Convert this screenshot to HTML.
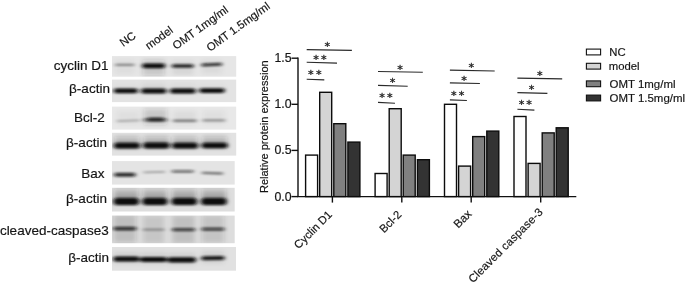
<!DOCTYPE html><html><head><meta charset="utf-8"><title>Figure</title><style>html,body{margin:0;padding:0;background:#fff}svg{display:block}text{font-family:"Liberation Sans",Arial,sans-serif;fill:#151515;stroke:#151515;stroke-width:0.18px}.st{font-family:"DejaVu Sans","Liberation Sans",sans-serif;font-size:11.3px;fill:#222;stroke:#222;stroke-width:0.3}</style></head><body>
<svg width="685" height="282" viewBox="0 0 685 282">
<defs><filter id="b1" x="-30%" y="-150%" width="160%" height="400%"><feGaussianBlur stdDeviation="2.1 1.0"/></filter><filter id="b2" x="-30%" y="-150%" width="160%" height="400%"><feGaussianBlur stdDeviation="2.5 2.2"/></filter><linearGradient id="hz" x1="0" y1="0" x2="0" y2="1"><stop offset="0" stop-color="#222" stop-opacity="0.25"/><stop offset="1" stop-color="#222" stop-opacity="1"/></linearGradient></defs>
<rect width="685" height="282" fill="#fff"/>
<clipPath id="c0"><rect x="112" y="56.1" width="124.2" height="20.6"/></clipPath>
<rect x="112" y="56.1" width="124.2" height="20.6" fill="#e6e6e6"/>
<g clip-path="url(#c0)">
<g filter="url(#b2)">
<rect x="115.5" y="59.9" width="18.5" height="14.0" fill="#222" opacity="0.04"/>
<rect x="142.6" y="59.8" width="22.1" height="16.0" fill="#222" opacity="0.16"/>
<rect x="172.2" y="61.0" width="21.0" height="14.0" fill="#222" opacity="0.07"/>
<rect x="201.7" y="59.7" width="19.9" height="14.0" fill="#222" opacity="0.05"/>
</g>
<g filter="url(#b1)">
<rect x="115.0" y="63.70" width="19.5" height="2.4" rx="1.20" fill="#0c0c0c" opacity="0.4"/>
<rect x="142.1" y="63.40" width="23.1" height="4.8" rx="2.40" fill="#0c0c0c" opacity="1"/>
<rect x="171.7" y="64.20" width="22.0" height="3.6" rx="1.80" fill="#0c0c0c" opacity="0.9"/>
<rect x="201.2" y="63.20" width="20.9" height="3.0" rx="1.50" fill="#0c0c0c" opacity="0.82" transform="rotate(-2.5 211.6 64.7)"/>
</g></g>
<text x="108.5" y="69.5" font-size="13.5" text-anchor="end" stroke="#151515" stroke-width="0.3">cyclin D1</text>
<clipPath id="c1"><rect x="112" y="79.6" width="124.2" height="22.5"/></clipPath>
<rect x="112" y="79.6" width="124.2" height="22.5" fill="#e3e3e3"/>
<g clip-path="url(#c1)">
<g filter="url(#b2)">
<rect x="114.2" y="83.9" width="23.2" height="9.0" fill="url(#hz)" opacity="0.05"/>
<rect x="141.6" y="82.0" width="24.3" height="11.0" fill="url(#hz)" opacity="0.1"/>
<rect x="170.5" y="83.0" width="24.7" height="10.0" fill="url(#hz)" opacity="0.07"/>
<rect x="199.8" y="83.6" width="24.4" height="9.0" fill="url(#hz)" opacity="0.05"/>
</g>
<g filter="url(#b1)">
<rect x="113.7" y="88.50" width="24.2" height="4.8" rx="2.40" fill="#0c0c0c" opacity="1"/>
<rect x="141.1" y="88.50" width="25.3" height="5.0" rx="2.50" fill="#0c0c0c" opacity="1"/>
<rect x="170.0" y="88.50" width="25.7" height="5.0" rx="2.50" fill="#0c0c0c" opacity="1"/>
<rect x="199.3" y="88.20" width="25.4" height="4.8" rx="2.40" fill="#0c0c0c" opacity="1"/>
</g></g>
<text x="109.9" y="93.2" font-size="13.5" text-anchor="end" stroke="#151515" stroke-width="0.3">β-actin</text>
<clipPath id="c2"><rect x="112" y="106.6" width="124.2" height="23.0"/></clipPath>
<rect x="112" y="106.6" width="124.2" height="23.0" fill="#e8e8e8"/>
<g clip-path="url(#c2)">
<g filter="url(#b2)">
<rect x="117.0" y="110.8" width="22.5" height="14.0" fill="#222" opacity="0.04"/>
<rect x="143.7" y="108.9" width="23.2" height="16.0" fill="#222" opacity="0.17"/>
<rect x="173.3" y="110.8" width="23.1" height="14.0" fill="#222" opacity="0.05"/>
<rect x="202.8" y="110.4" width="22.1" height="14.0" fill="#222" opacity="0.04"/>
</g>
<g filter="url(#b1)">
<rect x="116.5" y="119.90" width="23.5" height="1.8" rx="0.90" fill="#0c0c0c" opacity="0.28" transform="rotate(-2 128.2 120.8)"/>
<rect x="143.2" y="118.60" width="24.2" height="2.6" rx="1.30" fill="#0c0c0c" opacity="0.6"/>
<rect x="147.5" y="117.60" width="16.5" height="4.0" rx="2.00" fill="#0c0c0c" opacity="0.8"/>
<rect x="172.8" y="119.50" width="24.1" height="2.6" rx="1.30" fill="#0c0c0c" opacity="0.45"/>
<rect x="202.3" y="119.30" width="23.1" height="2.2" rx="1.10" fill="#0c0c0c" opacity="0.38"/>
</g></g>
<text x="104.7" y="121.7" font-size="13.5" text-anchor="end" stroke="#151515" stroke-width="0.3">Bcl-2</text>
<clipPath id="c3"><rect x="112" y="132.8" width="124.2" height="22.8"/></clipPath>
<rect x="112" y="132.8" width="124.2" height="22.8" fill="#e2e2e2"/>
<g clip-path="url(#c3)">
<g filter="url(#b2)">
<rect x="114.6" y="135.7" width="24.9" height="12.0" fill="url(#hz)" opacity="0.42"/>
<rect x="143.7" y="135.5" width="25.3" height="12.0" fill="url(#hz)" opacity="0.42"/>
<rect x="172.8" y="135.7" width="24.7" height="12.0" fill="url(#hz)" opacity="0.42"/>
<rect x="202.2" y="135.5" width="24.8" height="12.0" fill="url(#hz)" opacity="0.42"/>
</g>
<g filter="url(#b1)">
<rect x="114.1" y="142.80" width="25.9" height="5.8" rx="2.90" fill="#0c0c0c" opacity="1"/>
<rect x="143.2" y="142.60" width="26.3" height="5.8" rx="2.90" fill="#0c0c0c" opacity="1"/>
<rect x="172.3" y="142.80" width="25.7" height="5.8" rx="2.90" fill="#0c0c0c" opacity="1"/>
<rect x="201.7" y="142.70" width="25.8" height="5.6" rx="2.80" fill="#0c0c0c" opacity="1"/>
</g></g>
<text x="106.9" y="146.7" font-size="13.5" text-anchor="end" stroke="#151515" stroke-width="0.3">β-actin</text>
<clipPath id="c4"><rect x="112" y="161.1" width="122.7" height="23.5"/></clipPath>
<rect x="112" y="161.1" width="122.7" height="23.5" fill="#e4e4e4"/>
<g clip-path="url(#c4)">
<g filter="url(#b1)">
<rect x="114.1" y="172.70" width="21.5" height="4.0" rx="2.00" fill="#0c0c0c" opacity="0.85"/>
<rect x="143.2" y="171.20" width="22.0" height="1.8" rx="0.90" fill="#0c0c0c" opacity="0.32" transform="rotate(-1 154.2 172.1)"/>
<rect x="171.7" y="170.10" width="22.0" height="2.6" rx="1.30" fill="#0c0c0c" opacity="0.55"/>
<rect x="201.7" y="172.00" width="21.5" height="2.4" rx="1.20" fill="#0c0c0c" opacity="0.5" transform="rotate(2 212.4 173.2)"/>
</g></g>
<text x="104.4" y="177.9" font-size="13.5" text-anchor="end" stroke="#151515" stroke-width="0.3">Bax</text>
<clipPath id="c5"><rect x="112" y="187.8" width="122.7" height="23.7"/></clipPath>
<rect x="112" y="187.8" width="122.7" height="23.7" fill="#dedede"/>
<g clip-path="url(#c5)">
<g filter="url(#b2)">
<rect x="114.2" y="188.6" width="24.2" height="15.0" fill="url(#hz)" opacity="0.5"/>
<rect x="143.0" y="188.6" width="23.8" height="15.0" fill="url(#hz)" opacity="0.5"/>
<rect x="172.2" y="188.4" width="24.2" height="15.0" fill="url(#hz)" opacity="0.5"/>
<rect x="201.7" y="188.6" width="24.3" height="15.0" fill="url(#hz)" opacity="0.5"/>
</g>
<g filter="url(#b1)">
<rect x="113.7" y="198.10" width="25.2" height="7.0" rx="3.50" fill="#0c0c0c" opacity="1"/>
<rect x="142.5" y="198.10" width="24.8" height="7.0" rx="3.50" fill="#0c0c0c" opacity="1"/>
<rect x="171.7" y="197.90" width="25.2" height="7.0" rx="3.50" fill="#0c0c0c" opacity="1"/>
<rect x="201.2" y="198.10" width="25.3" height="7.0" rx="3.50" fill="#0c0c0c" opacity="1"/>
</g></g>
<text x="106.9" y="203.2" font-size="13.5" text-anchor="end" stroke="#151515" stroke-width="0.3">β-actin</text>
<clipPath id="c6"><rect x="112" y="215.6" width="122.7" height="27.6"/></clipPath>
<rect x="112" y="215.6" width="122.7" height="27.6" fill="#dddddd"/>
<g clip-path="url(#c6)">
<g filter="url(#b2)">
<rect x="113.8" y="214.6" width="22.2" height="28.0" fill="#222" opacity="0.17"/>
<rect x="143.1" y="215.6" width="20.9" height="28.0" fill="#222" opacity="0.1"/>
<rect x="172.4" y="215.6" width="22.3" height="28.0" fill="#222" opacity="0.13"/>
<rect x="201.8" y="215.1" width="22.2" height="28.0" fill="#222" opacity="0.14"/>
</g>
<g filter="url(#b1)">
<rect x="113.3" y="226.80" width="23.2" height="3.6" rx="1.80" fill="#0c0c0c" opacity="0.8"/>
<rect x="142.6" y="228.40" width="21.9" height="2.4" rx="1.20" fill="#0c0c0c" opacity="0.32"/>
<rect x="171.9" y="228.00" width="23.3" height="3.2" rx="1.60" fill="#0c0c0c" opacity="0.72"/>
<rect x="201.3" y="227.50" width="23.2" height="3.2" rx="1.60" fill="#0c0c0c" opacity="0.72"/>
</g></g>
<text x="108.7" y="235.1" font-size="13.5" text-anchor="end" stroke="#151515" stroke-width="0.3">cleaved-caspase3</text>
<clipPath id="c7"><rect x="112" y="247.0" width="124.0" height="23.7"/></clipPath>
<rect x="112" y="247.0" width="124.0" height="23.7" fill="#e1e1e1"/>
<g clip-path="url(#c7)">
<g filter="url(#b2)">
<rect x="113.8" y="252.0" width="25.2" height="12.0" fill="#222" opacity="0.08"/>
<rect x="140.5" y="252.4" width="26.0" height="12.0" fill="#222" opacity="0.08"/>
<rect x="168.0" y="252.8" width="27.4" height="12.0" fill="#222" opacity="0.08"/>
<rect x="201.8" y="251.2" width="22.2" height="12.0" fill="#222" opacity="0.08"/>
</g>
<g filter="url(#b1)">
<rect x="113.3" y="256.50" width="26.2" height="5.0" rx="2.50" fill="#0c0c0c" opacity="1"/>
<rect x="140.0" y="256.90" width="27.0" height="5.0" rx="2.50" fill="#0c0c0c" opacity="1"/>
<rect x="167.5" y="257.20" width="28.4" height="5.2" rx="2.60" fill="#0c0c0c" opacity="1"/>
<rect x="201.3" y="256.20" width="23.2" height="4.0" rx="2.00" fill="#0c0c0c" opacity="0.95" transform="rotate(-1 212.9 258.2)"/>
</g></g>
<text x="109.0" y="262.4" font-size="13.5" text-anchor="end" stroke="#151515" stroke-width="0.3">β-actin</text>
<text transform="translate(123.3,47) rotate(-36)" font-size="11.4">NC</text>
<text transform="translate(148.8,50) rotate(-36)" font-size="11.4">model</text>
<text transform="translate(176,50) rotate(-36)" font-size="11.4">OMT 1mg/ml</text>
<text transform="translate(210,52) rotate(-36)" font-size="11.4">OMT 1.5mg/ml</text>
<path d="M298.0 57.5V196.6H576.3" fill="none" stroke="#111" stroke-width="1.4"/>
<path d="M291.5 196.6H298.0" stroke="#111" stroke-width="1.4"/>
<text x="291.6" y="200.6" font-size="12.3" text-anchor="end">0.0</text>
<path d="M291.5 150.4H298.0" stroke="#111" stroke-width="1.4"/>
<text x="291.6" y="154.4" font-size="12.3" text-anchor="end">0.5</text>
<path d="M291.5 104.3H298.0" stroke="#111" stroke-width="1.4"/>
<text x="291.6" y="108.3" font-size="12.3" text-anchor="end">1.0</text>
<path d="M291.5 58.2H298.0" stroke="#111" stroke-width="1.4"/>
<text x="291.6" y="62.2" font-size="12.3" text-anchor="end">1.5</text>
<text transform="translate(267.8,126.7) rotate(-90)" font-size="11" text-anchor="middle">Relative protein expression</text>
<rect x="305.6" y="155.1" width="12" height="41.5" fill="#ffffff" stroke="#0c0c0c" stroke-width="1.4"/>
<rect x="319.7" y="92.3" width="12" height="104.3" fill="#d4d4d4" stroke="#0c0c0c" stroke-width="1.4"/>
<rect x="333.8" y="123.7" width="12" height="72.9" fill="#808080" stroke="#0c0c0c" stroke-width="1.4"/>
<rect x="347.9" y="142.1" width="12" height="54.5" fill="#333333" stroke="#0c0c0c" stroke-width="1.4"/>
<path d="M332.4 196.6v6" stroke="#111" stroke-width="1.4"/>
<text transform="translate(332.8,215.3) rotate(-45)" font-size="11.3" letter-spacing="0" text-anchor="end">Cyclin D1</text>
<rect x="375.1" y="173.5" width="12" height="23.1" fill="#ffffff" stroke="#0c0c0c" stroke-width="1.4"/>
<rect x="389.2" y="108.7" width="12" height="87.9" fill="#d4d4d4" stroke="#0c0c0c" stroke-width="1.4"/>
<rect x="403.2" y="155.1" width="12" height="41.5" fill="#808080" stroke="#0c0c0c" stroke-width="1.4"/>
<rect x="417.4" y="159.7" width="12" height="36.9" fill="#333333" stroke="#0c0c0c" stroke-width="1.4"/>
<path d="M401.8 196.6v6" stroke="#111" stroke-width="1.4"/>
<text transform="translate(402.2,215.3) rotate(-45)" font-size="11.3" letter-spacing="0" text-anchor="end">Bcl-2</text>
<rect x="444.5" y="104.3" width="12" height="92.3" fill="#ffffff" stroke="#0c0c0c" stroke-width="1.4"/>
<rect x="458.6" y="166.1" width="12" height="30.5" fill="#d4d4d4" stroke="#0c0c0c" stroke-width="1.4"/>
<rect x="472.7" y="136.6" width="12" height="60.0" fill="#808080" stroke="#0c0c0c" stroke-width="1.4"/>
<rect x="486.8" y="131.1" width="12" height="65.5" fill="#333333" stroke="#0c0c0c" stroke-width="1.4"/>
<path d="M471.2 196.6v6" stroke="#111" stroke-width="1.4"/>
<text transform="translate(472.3,214.6) rotate(-45)" font-size="11.6" letter-spacing="0" text-anchor="end">Bax</text>
<rect x="514.0" y="116.5" width="12" height="80.1" fill="#ffffff" stroke="#0c0c0c" stroke-width="1.4"/>
<rect x="528.1" y="163.4" width="12" height="33.2" fill="#d4d4d4" stroke="#0c0c0c" stroke-width="1.4"/>
<rect x="542.2" y="132.9" width="12" height="63.7" fill="#808080" stroke="#0c0c0c" stroke-width="1.4"/>
<rect x="556.2" y="127.8" width="12" height="68.8" fill="#333333" stroke="#0c0c0c" stroke-width="1.4"/>
<path d="M540.7 196.6v6" stroke="#111" stroke-width="1.4"/>
<text transform="translate(543.7,212.7) rotate(-45)" font-size="11.3" letter-spacing="0.2" text-anchor="end">Cleaved caspase-3</text>
<path d="M306.7 79.3L324.3 79.9" stroke="#2a2a2a" stroke-width="1.1"/>
<text class="st" x="310.9" y="77.8" text-anchor="middle">*</text>
<text class="st" x="318.8" y="77.8" text-anchor="middle">*</text>
<path d="M306.7 62.3L337.0 63.1" stroke="#2a2a2a" stroke-width="1.1"/>
<text class="st" x="316.0" y="62.7" text-anchor="middle">*</text>
<text class="st" x="323.9" y="62.7" text-anchor="middle">*</text>
<path d="M306.7 49.6L351.9 50.4" stroke="#2a2a2a" stroke-width="1.1"/>
<text class="st" x="327.4" y="49.9" text-anchor="middle">*</text>
<path d="M378 102.4L395 103.3" stroke="#2a2a2a" stroke-width="1.1"/>
<text class="st" x="382.0" y="100.9" text-anchor="middle">*</text>
<text class="st" x="389.8" y="100.9" text-anchor="middle">*</text>
<path d="M378 85.4L407.7 86.2" stroke="#2a2a2a" stroke-width="1.1"/>
<text class="st" x="392.7" y="85.9" text-anchor="middle">*</text>
<path d="M378 71.5L422.8 72.3" stroke="#2a2a2a" stroke-width="1.1"/>
<text class="st" x="400" y="72.9" text-anchor="middle">*</text>
<path d="M449.9 99.9L466.9 100.5" stroke="#2a2a2a" stroke-width="1.1"/>
<text class="st" x="453.9" y="99.0" text-anchor="middle">*</text>
<text class="st" x="461.7" y="99.0" text-anchor="middle">*</text>
<path d="M449.9 82.9L479.9 83.5" stroke="#2a2a2a" stroke-width="1.1"/>
<text class="st" x="464" y="84.0" text-anchor="middle">*</text>
<path d="M449.9 70.1L494.7 71.0" stroke="#2a2a2a" stroke-width="1.1"/>
<text class="st" x="471.4" y="70.9" text-anchor="middle">*</text>
<path d="M517.4 109.3L534.4 110.1" stroke="#2a2a2a" stroke-width="1.1"/>
<text class="st" x="521.6" y="108.1" text-anchor="middle">*</text>
<text class="st" x="529" y="108.1" text-anchor="middle">*</text>
<path d="M517.4 92.6L547.4 93.4" stroke="#2a2a2a" stroke-width="1.1"/>
<text class="st" x="531.6" y="92.5" text-anchor="middle">*</text>
<path d="M517.4 78.1L562.2 78.9" stroke="#2a2a2a" stroke-width="1.1"/>
<text class="st" x="539.8" y="79.4" text-anchor="middle">*</text>
<rect x="586.4" y="49.1" width="14.2" height="5.8" fill="#ffffff" stroke="#111" stroke-width="1.1"/>
<text x="609.3" y="56.0" font-size="11.3">NC</text>
<rect x="586.4" y="63.3" width="14.2" height="5.8" fill="#d4d4d4" stroke="#111" stroke-width="1.1"/>
<text x="608.8" y="70.2" font-size="11.3">model</text>
<rect x="586.4" y="80.9" width="14.2" height="5.8" fill="#808080" stroke="#111" stroke-width="1.1"/>
<text x="609.6" y="87.8" font-size="11.45">OMT 1mg/ml</text>
<rect x="586.4" y="95.1" width="14.2" height="5.8" fill="#333333" stroke="#111" stroke-width="1.1"/>
<text x="609.6" y="102.0" font-size="11.45">OMT 1.5mg/ml</text>
</svg></body></html>
